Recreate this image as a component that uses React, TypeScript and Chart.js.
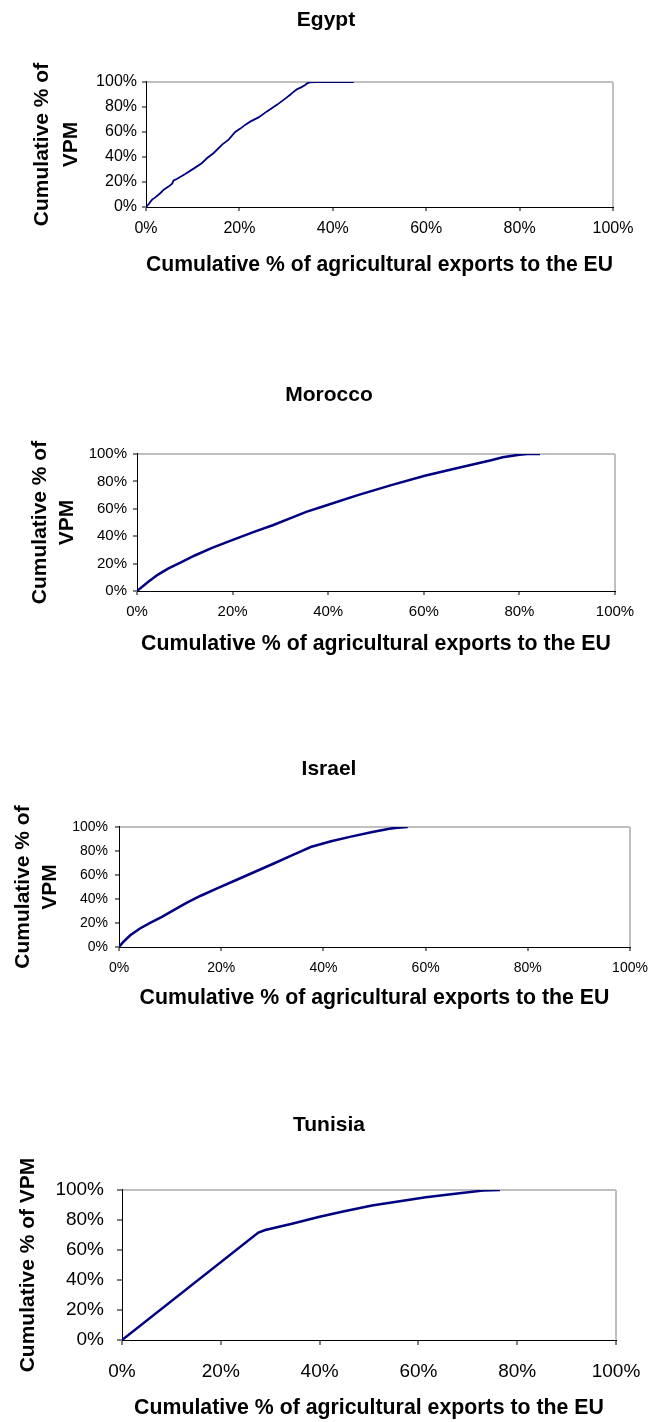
import React, { useEffect, useRef } from 'react';
import { Chart, registerables } from 'chart.js';

Chart.register(...registerables);

const FONT = '"Liberation Sans", Arial, Helvetica, sans-serif';
const PAGE_W = 648;
const TITLE_SIZE = 21;

// ---- data (percent values) ----
const xAxisTitle = 'Cumulative % of agricultural exports to the EU';
const yTitleTwoLines = ['Cumulative % of', 'VPM'];
const yTitleOneLine = 'Cumulative % of VPM';
const axisMin = 0;
const axisMax = 100;
const axisStep = 20;

const egyptX = [0, 0.6, 1.3, 2.0, 3.1, 3.8, 4.9, 5.6, 5.9, 6.6, 8.4, 10.2, 12.0, 13.1, 14.5, 16.3, 17.7, 19.1, 20.2, 21.3, 22.4, 24.1, 25.9, 28.1, 30.1, 31.0, 31.4, 32.3, 33.2, 34.1, 34.5, 35.0, 36.3, 44.5];
const egyptY = [0, 2.4, 5.9, 7.7, 11.2, 13.9, 16.5, 18.7, 21.3, 22.4, 26.4, 30.7, 35.2, 39.2, 43.2, 49.9, 53.9, 60.0, 62.7, 65.9, 68.5, 71.7, 76.5, 81.9, 87.5, 90.2, 91.5, 94.1, 95.7, 97.6, 98.9, 99.7, 100, 100];

const moroccoX = [0, 2.3, 4.4, 6.5, 9.4, 12.2, 15.7, 19.9, 24.9, 28.4, 32.4, 35.4, 39.2, 46.2, 53.2, 60.2, 67.3, 74.3, 76.5, 80.0, 81.7, 84.3];
const moroccoY = [0, 6.6, 12.0, 16.3, 21.2, 26.1, 31.5, 37.1, 43.7, 48.0, 53.5, 57.8, 62.0, 70.0, 77.3, 84.1, 90.0, 95.6, 97.6, 99.5, 100, 100];

const israelX = [0, 0.85, 2.2, 4.1, 6.1, 8.4, 10.7, 13.3, 15.9, 19.2, 22.5, 26.4, 30.4, 33.6, 35.6, 37.5, 41.5, 45.6, 49.6, 52.9, 54.5, 56.5];
const israelY = [0, 4.2, 9.8, 15.4, 20.1, 25.1, 30.7, 36.9, 42.5, 48.9, 55.0, 62.3, 69.8, 76.0, 79.6, 83.3, 88.1, 92.2, 95.8, 98.6, 99.4, 100];

const tunisiaX = [0, 27.6, 29.0, 34.4, 40.0, 45.0, 50.6, 54.9, 61.5, 68.3, 73.1, 76.5];
const tunisiaY = [0, 71.6, 73.3, 77.5, 82.2, 85.8, 89.6, 91.8, 95.1, 97.8, 99.6, 100];

// ---- layout (page pixel positions) ----
type Layout = {
  canvasTop: number;
  titleX: number;
  titleY: number;
  plotLeft: number;
  plotRight: number;
  plotTop: number;
  plotBottom: number;
  tickY: number;
  xTitleY: number;
  xTitleSize: number;
  yTitleX: number;
  yTitleSize: number;
  yTitleLH: number;
  tickSize: number;
  yGap: number;
  tickLen: number;
  lineWidth: number;
};

type Spec = {
  title: string;
  xs: number[];
  ys: number[];
  yTitle: string | string[];
  layout: Layout;
};

const specs: Spec[] = [
  {
    title: 'Egypt', xs: egyptX, ys: egyptY, yTitle: yTitleTwoLines,
    layout: { canvasTop: 0, titleX: 326, titleY: 20, plotLeft: 146, plotRight: 613, plotTop: 82, plotBottom: 207, tickY: 229, xTitleY: 265, xTitleSize: 22, yTitleX: 42, yTitleSize: 21, yTitleLH: 1.38, tickSize: 16, yGap: 9, tickLen: 4, lineWidth: 1.8 },
  },
  {
    title: 'Morocco', xs: moroccoX, ys: moroccoY, yTitle: yTitleTwoLines,
    layout: { canvasTop: 360, titleX: 329, titleY: 395, plotLeft: 137, plotRight: 615, plotTop: 454, plotBottom: 591, tickY: 612, xTitleY: 644, xTitleSize: 21.3, yTitleX: 40.6, yTitleSize: 21, yTitleLH: 1.29, tickSize: 15, yGap: 10, tickLen: 4, lineWidth: 2.5 },
  },
  {
    title: 'Israel', xs: israelX, ys: israelY, yTitle: yTitleTwoLines,
    layout: { canvasTop: 735, titleX: 329, titleY: 769, plotLeft: 119, plotRight: 630, plotTop: 827, plotBottom: 947, tickY: 968, xTitleY: 998, xTitleSize: 21.3, yTitleX: 23.5, yTitleSize: 21, yTitleLH: 1.26, tickSize: 14, yGap: 11, tickLen: 4, lineWidth: 2.5 },
  },
  {
    title: 'Tunisia', xs: tunisiaX, ys: tunisiaY, yTitle: yTitleOneLine,
    layout: { canvasTop: 1090, titleX: 329, titleY: 1125, plotLeft: 122, plotRight: 616, plotTop: 1190, plotBottom: 1340, tickY: 1372, xTitleY: 1408, xTitleSize: 21.3, yTitleX: 28, yTitleSize: 21, yTitleLH: 1.2, tickSize: 19, yGap: 18, tickLen: 5, lineWidth: 2.5 },
  },
];

function canvasHeight(L: Layout) {
  return Math.round(L.xTitleY + 0.6 * L.xTitleSize - L.canvasTop);
}

function Panel({ spec }: { spec: Spec }) {
  const ref = useRef<HTMLCanvasElement | null>(null);
  const L = spec.layout;
  const cH = canvasHeight(L);

  useEffect(() => {
    if (!ref.current) return;
    const padL = 2 * L.titleX - L.plotRight;
    const padR = PAGE_W - L.plotRight;
    const titlePadTop = L.titleY - L.canvasTop - 0.6 * TITLE_SIZE;
    const titlePadBottom = L.plotTop - L.canvasTop - titlePadTop - 1.2 * TITLE_SIZE;
    const xTickPad = L.tickY - L.plotBottom - L.tickLen - 0.6 * L.tickSize;
    const xScaleH = L.canvasTop + cH - L.plotBottom;
    const yScaleW = L.plotLeft - padL;
    const yTitlePad = L.yTitleX - padL - (L.yTitleLH * L.yTitleSize) / 2;

    const gridColor = (c: any) => (c.tick && c.tick.value === axisMax ? '#c0c0c0' : 'rgba(0,0,0,0)');
    const tickFont = { family: FONT, size: L.tickSize, lineHeight: 1.2 };

    const chart = new Chart(ref.current, {
      type: 'scatter',
      data: {
        datasets: [
          {
            data: spec.xs.map((x, i) => ({ x, y: spec.ys[i] })),
            showLine: true,
            borderColor: '#000080',
            backgroundColor: '#000080',
            borderWidth: L.lineWidth,
            pointRadius: 0,
            pointHoverRadius: 0,
            fill: false,
            tension: 0,
          },
        ],
      },
      options: {
        responsive: false,
        animation: false,
        devicePixelRatio: 1,
        events: [],
        layout: { padding: { left: padL, right: padR, top: 0, bottom: 0 } },
        plugins: {
          legend: { display: false },
          tooltip: { enabled: false },
          title: {
            display: true,
            text: spec.title,
            color: '#000',
            font: { family: FONT, size: TITLE_SIZE, weight: 'bold', lineHeight: 1.2 },
            padding: { top: titlePadTop, bottom: titlePadBottom },
          },
        },
        scales: {
          x: {
            type: 'linear',
            min: axisMin,
            max: axisMax,
            ticks: {
              stepSize: axisStep,
              autoSkip: false,
              maxRotation: 0,
              color: '#000',
              font: tickFont,
              padding: xTickPad,
              callback: (v: any) => v + '%',
            },
            grid: {
              color: gridColor,
              lineWidth: 2,
              tickLength: L.tickLen,
              tickColor: '#000',
              tickWidth: 1,
              drawOnChartArea: true,
            },
            border: { display: true, color: '#000', width: 1 },
            title: {
              display: true,
              text: xAxisTitle,
              color: '#000',
              font: { family: FONT, size: L.xTitleSize, weight: 'bold', lineHeight: 1.2 },
              padding: { top: 0, bottom: 0 },
            },
            afterFit: (s: any) => {
              s.height = xScaleH;
              s.paddingLeft = 0;
              s.paddingRight = 0;
            },
          },
          y: {
            type: 'linear',
            min: axisMin,
            max: axisMax,
            ticks: {
              stepSize: axisStep,
              autoSkip: false,
              color: '#000',
              font: tickFont,
              padding: L.yGap - L.tickLen,
              callback: (v: any) => v + '%',
            },
            grid: {
              color: gridColor,
              lineWidth: 2,
              tickLength: L.tickLen,
              tickColor: '#000',
              tickWidth: 1,
              drawOnChartArea: true,
            },
            border: { display: true, color: '#000', width: 1 },
            title: {
              display: true,
              text: spec.yTitle,
              color: '#000',
              font: { family: FONT, size: L.yTitleSize, weight: 'bold', lineHeight: L.yTitleLH },
              padding: { top: yTitlePad, bottom: 0 },
            },
            afterFit: (s: any) => {
              s.width = yScaleW;
            },
          },
        },
      } as any,
    });
    return () => chart.destroy();
  }, []);

  return (
    <canvas
      ref={ref}
      width={PAGE_W}
      height={cH}
      style={{ position: 'absolute', left: 0, top: L.canvasTop, display: 'block' }}
    />
  );
}

export default function App() {
  return (
    <div style={{ position: 'absolute', left: 0, top: 0, width: PAGE_W, height: 1422, background: '#fff', overflow: 'hidden' }}>
      {specs.map((s) => (
        <Panel key={s.title} spec={s} />
      ))}
    </div>
  );
}
